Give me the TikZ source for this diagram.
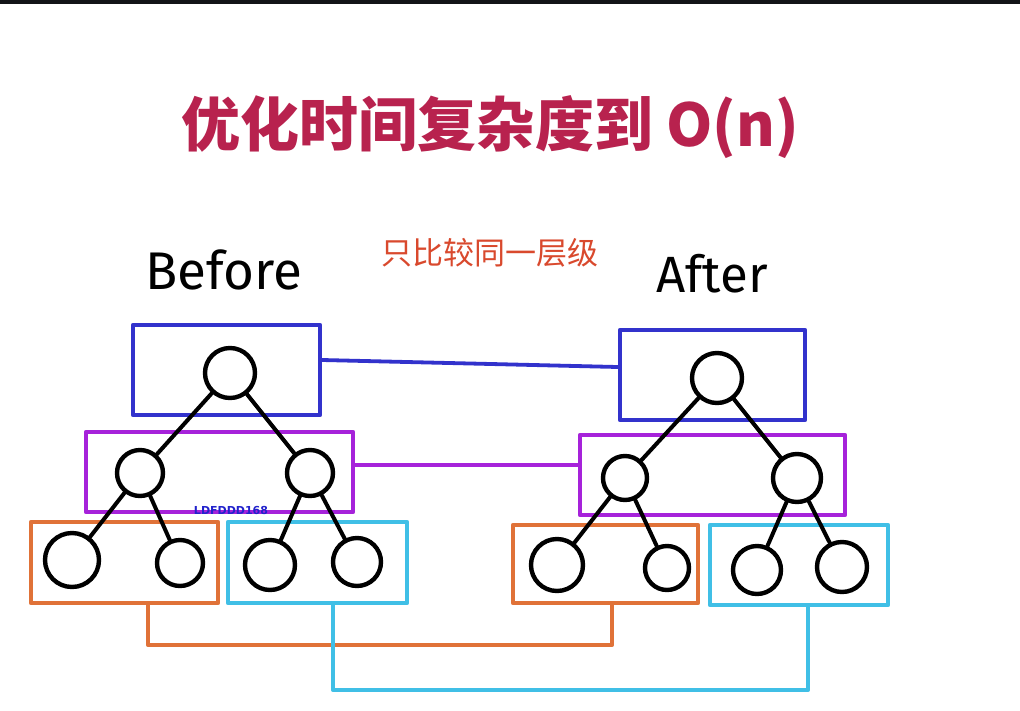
\documentclass[tikz,border=0pt]{standalone}
\usepackage{fontspec}
\newfontfamily\cjk{Noto Sans CJK SC}
\newfontfamily\hand{Fira Sans}
\newfontfamily\wmfont{DejaVu Sans}
\usetikzlibrary{calc}
\definecolor{titlered}{HTML}{B8224E}
\definecolor{notered}{HTML}{D9492D}
\definecolor{lvlblue}{HTML}{3232CC}
\definecolor{lvlpurple}{HTML}{A622DA}
\definecolor{lvlorange}{HTML}{E07238}
\definecolor{lvlcyan}{HTML}{40BFE6}
\definecolor{topbar}{HTML}{121418}
\definecolor{wmblue}{HTML}{2222CC}

\begin{document}
\begin{tikzpicture}[x=1pt,y=-1pt,
  tnode/.style={circle,draw=black,line width=4.4pt,inner sep=0pt,minimum size=#1},
  tedge/.style={draw=black,line width=4pt,line cap=round},
  lvl/.style={draw=#1,line width=4.6pt,rectangle,inner sep=0pt,line join=round},
  link/.style={draw=#1,line width=3.8pt,line join=round,line cap=round},
]
\useasboundingbox (0,0) rectangle (1020,710);
\fill[white] (0,0) rectangle (1020,710);
\fill[topbar] (0,0) rectangle (1020,4);

% headings
\node[text=titlered,font=\cjk\bfseries\fontsize{59}{59}\selectfont] (title) at (490,127) {优化时间复杂度到 O(n)};
\node[text=notered,font=\cjk\fontsize{31}{31}\selectfont] (note) at (490,253) {只比较同一层级};
\node[font=\hand\fontsize{53}{53}\selectfont] (before) at (224,270) {Before};
\node[font=\hand\fontsize{51}{51}\selectfont] (after) at (712,274) {After};

% level boxes, left tree
\node[lvl=lvlblue,minimum width=187pt,minimum height=90pt] (bB) at (226.5,370) {};
\node[lvl=lvlpurple,minimum width=267pt,minimum height=80pt] (bP) at (219.5,472) {};
\node[lvl=lvlorange,minimum width=187pt,minimum height=81pt] (bO) at (124.5,562.5) {};
\node[lvl=lvlcyan,minimum width=179pt,minimum height=81pt] (bC) at (317.5,562.5) {};

% level boxes, right tree
\node[lvl=lvlblue,minimum width=185pt,minimum height=90pt] (aB) at (712.5,375) {};
\node[lvl=lvlpurple,minimum width=265pt,minimum height=80pt] (aP) at (712.5,475) {};
\node[lvl=lvlorange,minimum width=185pt,minimum height=78pt] (aO) at (605.5,564) {};
\node[lvl=lvlcyan,minimum width=178pt,minimum height=80pt] (aC) at (799,565) {};

% left tree
\node[tnode=50pt] (br) at (230,373) {};
\node[tnode=46pt] (bm1) at (140,473) {};
\node[tnode=46pt] (bm2) at (310,473) {};
\node[tnode=54pt] (bl1) at (72,560) {};
\node[tnode=46pt] (bl2) at (180,563) {};
\node[tnode=50pt] (bl3) at (270,565) {};
\node[tnode=48pt] (bl4) at (357,562) {};
\draw[tedge] (br) -- (bm1);
\draw[tedge] (br) -- (bm2);
\draw[tedge] (bm1) -- (bl1);
\draw[tedge] (bm1) -- (bl2);
\draw[tedge] (bm2) -- (bl3);
\draw[tedge] (bm2) -- (bl4);

% right tree
\node[tnode=50pt] (ar) at (717,378) {};
\node[tnode=44pt] (am1) at (625,478) {};
\node[tnode=48pt] (am2) at (797,478) {};
\node[tnode=52pt] (al1) at (557,565) {};
\node[tnode=44pt] (al2) at (667,568) {};
\node[tnode=48pt] (al3) at (757,570) {};
\node[tnode=50pt] (al4) at (842,567) {};
\draw[tedge] (ar) -- (am1);
\draw[tedge] (ar) -- (am2);
\draw[tedge] (am1) -- (al1);
\draw[tedge] (am1) -- (al2);
\draw[tedge] (am2) -- (al3);
\draw[tedge] (am2) -- (al4);

% links between matching levels
\draw[link=lvlblue] ([yshift=10pt]bB.east) -- ([yshift=8pt]aB.west);
\draw[link=lvlpurple] ([yshift=7pt]bP.east) -- ([yshift=10pt]aP.west);
\draw[link=lvlorange] ([xshift=23.5pt]bO.south) -- ++(0,40) -| ([xshift=6.5pt]aO.south);
\draw[link=lvlcyan] ([xshift=15.5pt]bC.south) -- ++(0,85) -| ([xshift=9pt]aC.south);

\node[text=wmblue,font=\wmfont\bfseries\fontsize{11}{11}\selectfont] (wm) at (231,510) {LDFDDD168};
\end{tikzpicture}
\end{document}
